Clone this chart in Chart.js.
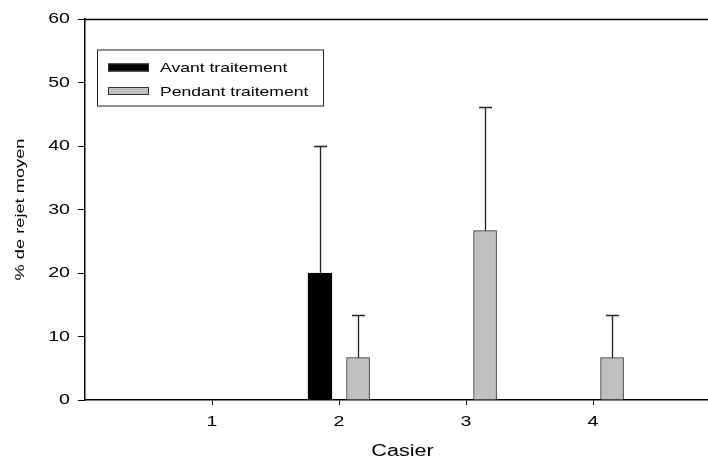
<!DOCTYPE html>
<html>
<head>
<meta charset="utf-8">
<script src="https://cdn.jsdelivr.net/npm/chart.js@4.4.1/dist/chart.umd.min.js"></script>
<style>
html,body{margin:0;padding:0;background:#fff;overflow:hidden;width:708px;height:461px;}
#wrap{width:722px;height:461px;position:relative;}
</style>
</head>
<body>
<div id="wrap"><canvas id="c" width="722" height="461"></canvas></div>
<script>
// Data
const categories = [1, 2, 3, 4];
const avantValues = [null, 20, null, null];
const avantErrors = [null, 20, null, null];
const pendantValues = [null, 6.67, 26.67, 6.67];
const pendantErrors = [null, 6.67, 19.5, 6.67];
const yTicks = [0, 10, 20, 30, 40, 50, 60];
const seriesLabels = ['Avant traitement', 'Pendant traitement'];

const FONT = "'Liberation Sans', Arial, sans-serif";
const OFFSET = 0.15;     // group offset of each series around its category
const TEXT_STRETCH = 1.35; // the reference uses a wide sans-serif face

// Wide text rendering: stretch glyphs along their baseline
const canvas = document.getElementById('c');
const ctx2d = canvas.getContext('2d');
const origFill = ctx2d.fillText.bind(ctx2d);
const origMeasure = ctx2d.measureText.bind(ctx2d);
ctx2d.fillText = function (text, x, y, maxWidth) {
  this.save();
  this.translate(x, y);
  this.scale(TEXT_STRETCH, 1);
  if (maxWidth === undefined || maxWidth === null) origFill(text, 0, 0);
  else origFill(text, 0, 0, maxWidth / TEXT_STRETCH);
  this.restore();
};
ctx2d.measureText = function (text) {
  const m = origMeasure(text);
  return {
    width: m.width * TEXT_STRETCH,
    actualBoundingBoxAscent: m.actualBoundingBoxAscent,
    actualBoundingBoxDescent: m.actualBoundingBoxDescent,
    actualBoundingBoxLeft: m.actualBoundingBoxLeft * TEXT_STRETCH,
    actualBoundingBoxRight: m.actualBoundingBoxRight * TEXT_STRETCH
  };
};

function buildPoints(vals, errs, off) {
  const pts = [];
  categories.forEach((c, i) => {
    if (vals[i] !== null) pts.push({ x: c + off, y: vals[i], err: errs[i] });
  });
  return pts;
}

const avantPts = buildPoints(avantValues, avantErrors, -OFFSET);
const pendantPts = buildPoints(pendantValues, pendantErrors, OFFSET);

const errorBarPlugin = {
  id: 'errorBars',
  afterDatasetsDraw(chart) {
    const ctx = chart.ctx;
    const xs = chart.scales.x, ys = chart.scales.y;
    ctx.save();
    chart.data.datasets.forEach(ds => {
      ds.data.forEach(p => {
        if (p.err == null) return;
        const x = Math.round(xs.getPixelForValue(p.x)) + 0.5;
        const y0 = ys.getPixelForValue(p.y);
        const y1 = Math.round(ys.getPixelForValue(p.y + p.err)) + 0.5;
        ctx.strokeStyle = '#222';
        ctx.lineWidth = 1.3;
        ctx.beginPath();
        ctx.moveTo(x, y0); ctx.lineTo(x, y1);
        ctx.moveTo(x - 6.5, y1); ctx.lineTo(x + 6.5, y1);
        ctx.stroke();
      });
    });
    ctx.restore();
  }
};

const frameLegendPlugin = {
  id: 'frameLegend',
  afterDraw(chart) {
    const ctx = chart.ctx;
    const a = chart.chartArea;
    ctx.save();
    ctx.strokeStyle = '#000';
    ctx.lineWidth = 1.5;
    ctx.beginPath();
    ctx.moveTo(a.left, Math.round(a.top) + 0.5);
    ctx.lineTo(a.right, Math.round(a.top) + 0.5);
    ctx.lineTo(a.right, a.bottom);
    ctx.stroke();
    // legend box
    const bx = 97, by = 49.5, bw = 226, bh = 56;
    ctx.lineWidth = 1;
    ctx.strokeStyle = '#222';
    ctx.strokeRect(bx + 0.5, by + 0.5, bw, bh);
    ctx.font = "13px " + FONT;
    ctx.textBaseline = 'middle';
    ctx.textAlign = 'left';
    chart.data.datasets.forEach((ds, i) => {
      const sy = 63.5 + i * 23.5;
      ctx.fillStyle = ds.backgroundColor;
      ctx.fillRect(108, sy, 41, 8);
      ctx.strokeStyle = '#333';
      ctx.strokeRect(108.5, sy + 0.5, 40, 7);
      ctx.fillStyle = '#000';
      ctx.fillText(ds.label, 160, sy + 5);
    });
    ctx.restore();
  }
};

new Chart(canvas, {
  type: 'bar',
  data: {
    datasets: [
      { label: seriesLabels[0], data: avantPts, backgroundColor: '#000000', borderColor: '#000000', borderWidth: 1, barThickness: 24, grouped: false },
      { label: seriesLabels[1], data: pendantPts, backgroundColor: '#c0c0c0', borderColor: '#333333', borderWidth: 1, barThickness: 23, grouped: false }
    ]
  },
  options: {
    responsive: false,
    animation: false,
    devicePixelRatio: 1,
    layout: { padding: { top: 19, right: 2, left: 0, bottom: 0 } },
    plugins: { legend: { display: false }, tooltip: { enabled: false } },
    scales: {
      x: {
        type: 'linear',
        min: 0,
        max: 5,
        offset: false,
        afterBuildTicks(scale) { scale.ticks = categories.map(v => ({ value: v })); },
        afterFit(scale) { scale.height = 61; },
        ticks: { color: '#000', font: { family: FONT, size: 14.5 }, padding: 8, maxRotation: 0, autoSkip: false, callback: v => String(v) },
        grid: { display: true, offset: false, drawOnChartArea: false, drawTicks: true, tickLength: 5, color: '#000', lineWidth: 1 },
        border: { display: true, color: '#000', width: 1.5 },
        title: { display: true, text: 'Casier', color: '#000', font: { family: FONT, size: 16 }, padding: { top: 0, bottom: 0 } }
      },
      y: {
        min: 0,
        max: 60,
        afterBuildTicks(scale) { scale.ticks = yTicks.map(v => ({ value: v })); },
        afterFit(scale) { scale.width = 85; },
        ticks: { color: '#000', font: { family: FONT, size: 14.5 }, padding: 8 },
        grid: { display: true, drawOnChartArea: false, drawTicks: true, tickLength: 7, color: '#000', lineWidth: 1 },
        border: { display: true, color: '#000', width: 1.5 },
        title: { display: true, text: '% de rejet moyen', color: '#000', font: { family: FONT, size: 13.5 }, padding: { top: 12, bottom: 0 } }
      }
    }
  },
  plugins: [errorBarPlugin, frameLegendPlugin]
});
</script>
</body>
</html>
